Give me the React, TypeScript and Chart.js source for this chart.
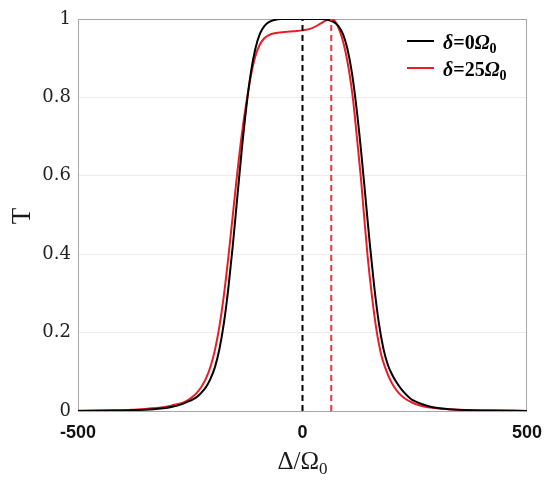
import React, { useEffect, useRef } from "react";
import { Chart, registerables } from "chart.js";

Chart.register(...registerables);

// Δ/Ω0 values and transmission T for δ = 0 Ω0
const blackX = [-500, -430, -380, -340, -310, -290, -270, -255, -245, -235, -225, -215, -205, -195, -185, -175, -165, -155, -145, -135, -125, -115, -105, -95, -85, -75, -65, -45, 0, 40, 60, 70, 80, 90, 100, 110, 120, 130, 140, 150, 160, 170, 180, 190, 200, 210, 220, 230, 240, 250, 265, 285, 305, 335, 375, 425, 500];
const blackT = [0.0003, 0.001, 0.002, 0.004, 0.007, 0.011, 0.017, 0.024, 0.029, 0.036, 0.047, 0.061, 0.082, 0.112, 0.158, 0.225, 0.315, 0.425, 0.548, 0.669, 0.776, 0.863, 0.924, 0.962, 0.982, 0.992, 0.997, 1.0, 1.0, 1.0, 0.997, 0.992, 0.982, 0.962, 0.924, 0.863, 0.776, 0.669, 0.548, 0.425, 0.315, 0.225, 0.16, 0.118, 0.092, 0.072, 0.056, 0.043, 0.032, 0.025, 0.018, 0.011, 0.007, 0.004, 0.002, 0.001, 0.0003];

// Δ/Ω0 values and transmission T for δ = 25 Ω0
const redX = [-500, -430, -380, -345, -315, -295, -280, -265, -255, -245, -235, -225, -215, -205, -195, -185, -175, -165, -155, -145, -135, -125, -115, -105, -95, -85, -75, -65, -45, -20, 0, 20, 40, 55, 64, 72, 80, 88, 96, 104, 112, 121, 130, 137, 145, 155, 165, 175, 185, 195, 205, 215, 228, 245, 262, 280, 310, 350, 420, 500];
const redT = [0.0005, 0.0015, 0.003, 0.006, 0.009, 0.013, 0.017, 0.022, 0.028, 0.036, 0.047, 0.062, 0.083, 0.113, 0.156, 0.216, 0.296, 0.394, 0.502, 0.61, 0.707, 0.787, 0.855, 0.905, 0.935, 0.951, 0.959, 0.963, 0.966, 0.969, 0.971, 0.976, 0.988, 0.998, 1.0, 0.995, 0.978, 0.952, 0.915, 0.865, 0.8, 0.7, 0.595, 0.5, 0.395, 0.29, 0.205, 0.145, 0.108, 0.08, 0.06, 0.045, 0.032, 0.021, 0.014, 0.0095, 0.0055, 0.003, 0.001, 0.0003];

// vertical dashed markers
const blackDashX = 0;
const redDashX = 64;

const legendLabels = ["0", "25"];
const xTicks = [-500, 0, 500];
const yTicks = [0, 0.2, 0.4, 0.6, 0.8, 1];

const BLACK = "#000000";
const RED = "#ec1c24";
const RED_DASH = "#e8343c";

type Part = { t: string; f: string; dy?: number };

function drawParts(ctx: CanvasRenderingContext2D, x: number, y: number, parts: Part[], align: "left" | "center") {
  let w = 0;
  for (const p of parts) {
    ctx.font = p.f;
    w += ctx.measureText(p.t).width;
  }
  let cx = align === "center" ? x - w / 2 : x;
  ctx.textAlign = "left";
  ctx.textBaseline = "alphabetic";
  for (const p of parts) {
    ctx.font = p.f;
    ctx.fillText(p.t, cx, y + (p.dy || 0));
    cx += ctx.measureText(p.t).width;
  }
}

const decorPlugin = {
  id: "decor",
  beforeDatasetsDraw(chart: any) {
    const { ctx, chartArea } = chart;
    ctx.save();
    ctx.strokeStyle = "#a6a6a6";
    ctx.lineWidth = 1;
    ctx.strokeRect(chartArea.left + 0.5, chartArea.top + 0.5, chartArea.right - chartArea.left - 1, chartArea.bottom - chartArea.top);
    ctx.restore();
  },
  afterDraw(chart: any) {
    const { ctx, chartArea } = chart;
    ctx.save();
    // legend
    const rows = [
      { color: BLACK, y: 41, label: legendLabels[0] },
      { color: RED, y: 68, label: legendLabels[1] },
    ];
    for (const r of rows) {
      ctx.strokeStyle = r.color;
      ctx.lineWidth = 2;
      ctx.beginPath();
      ctx.moveTo(407, r.y);
      ctx.lineTo(434, r.y);
      ctx.stroke();
      ctx.fillStyle = "#000";
      drawParts(ctx, 443, r.y + 8, [
        { t: "δ", f: "italic bold 20px 'Liberation Serif'" },
        { t: "=" + r.label, f: "bold 20px 'Liberation Serif'" },
        { t: "Ω", f: "italic bold 20px 'Liberation Serif'" },
        { t: "0", f: "bold 14px 'Liberation Serif'", dy: 4 },
      ], "left");
    }
    // x title
    ctx.fillStyle = "#1a1a1a";
    const cx = (chartArea.left + chartArea.right) / 2;
    drawParts(ctx, cx, 469, [
      { t: "Δ/Ω", f: "25px 'Liberation Serif'" },
      { t: "0", f: "17px 'Liberation Serif'", dy: 5 },
    ], "center");
    // y title
    ctx.translate(23, 216);
    ctx.rotate(-Math.PI / 2);
    ctx.font = "27px 'Liberation Serif'";
    ctx.textAlign = "center";
    ctx.textBaseline = "middle";
    ctx.fillText("T", 0, 0);
    ctx.restore();
  },
};

export default function App() {
  const ref = useRef<HTMLCanvasElement | null>(null);
  useEffect(() => {
    if (!ref.current) return;
    const blackData = blackX.map((x, i) => ({ x, y: blackT[i] }));
    const redData = redX.map((x, i) => ({ x, y: redT[i] }));
    const chart = new Chart(ref.current, {
      type: "line",
      data: {
        datasets: [
          {
            label: "black dash",
            data: [{ x: blackDashX, y: 0 }, { x: blackDashX, y: 1 }],
            borderColor: BLACK,
            borderWidth: 2,
            borderDash: [6, 4],
            pointRadius: 0,
          },
          {
            label: "red dash",
            data: [{ x: redDashX, y: 0 }, { x: redDashX, y: 1 }],
            borderColor: RED_DASH,
            borderWidth: 2,
            borderDash: [6, 4],
            pointRadius: 0,
          },
          {
            label: "δ=0Ω0",
            data: blackData,
            borderColor: BLACK,
            borderWidth: 2,
            pointRadius: 0,
            cubicInterpolationMode: "monotone",
          },
          {
            label: "δ=25Ω0",
            data: redData,
            borderColor: RED,
            borderWidth: 2,
            pointRadius: 0,
            cubicInterpolationMode: "monotone",
          },
        ],
      },
      options: {
        animation: false,
        responsive: true,
        maintainAspectRatio: false,
        layout: { padding: { top: 19, right: 23, left: 0, bottom: 0 } },
        plugins: { legend: { display: false }, tooltip: { enabled: false } },
        scales: {
          x: {
            type: "linear",
            min: -500,
            max: 500,
            afterFit: (s: any) => { s.height = 73; },
            afterBuildTicks: (s: any) => { s.ticks = xTicks.map((v) => ({ value: v })); },
            grid: { display: false, drawTicks: true, tickLength: 8, tickColor: "rgba(0,0,0,0)" },
            border: { display: false },
            ticks: {
              padding: 3,
              color: "#111",
              font: { family: "'Liberation Sans'", size: 18, weight: "bold" },
              callback: (v: any) => String(v),
            },
          },
          y: {
            type: "linear",
            min: 0,
            max: 1,
            afterFit: (s: any) => { s.width = 78; },
            afterBuildTicks: (s: any) => { s.ticks = yTicks.map((v) => ({ value: v })); },
            grid: { color: "#ebebeb", lineWidth: 1, drawTicks: false },
            border: { display: false },
            ticks: {
              padding: 7,
              color: "#222",
              font: { family: "'DejaVu Serif'", size: 18 },
              callback: (v: any) => String(v),
            },
          },
        },
      },
      plugins: [decorPlugin],
    } as any);
    return () => chart.destroy();
  }, []);
  return (
    <div style={{ position: "fixed", left: 0, top: 0, width: 550, height: 484, background: "#fff" }}>
      <canvas ref={ref} />
    </div>
  );
}
